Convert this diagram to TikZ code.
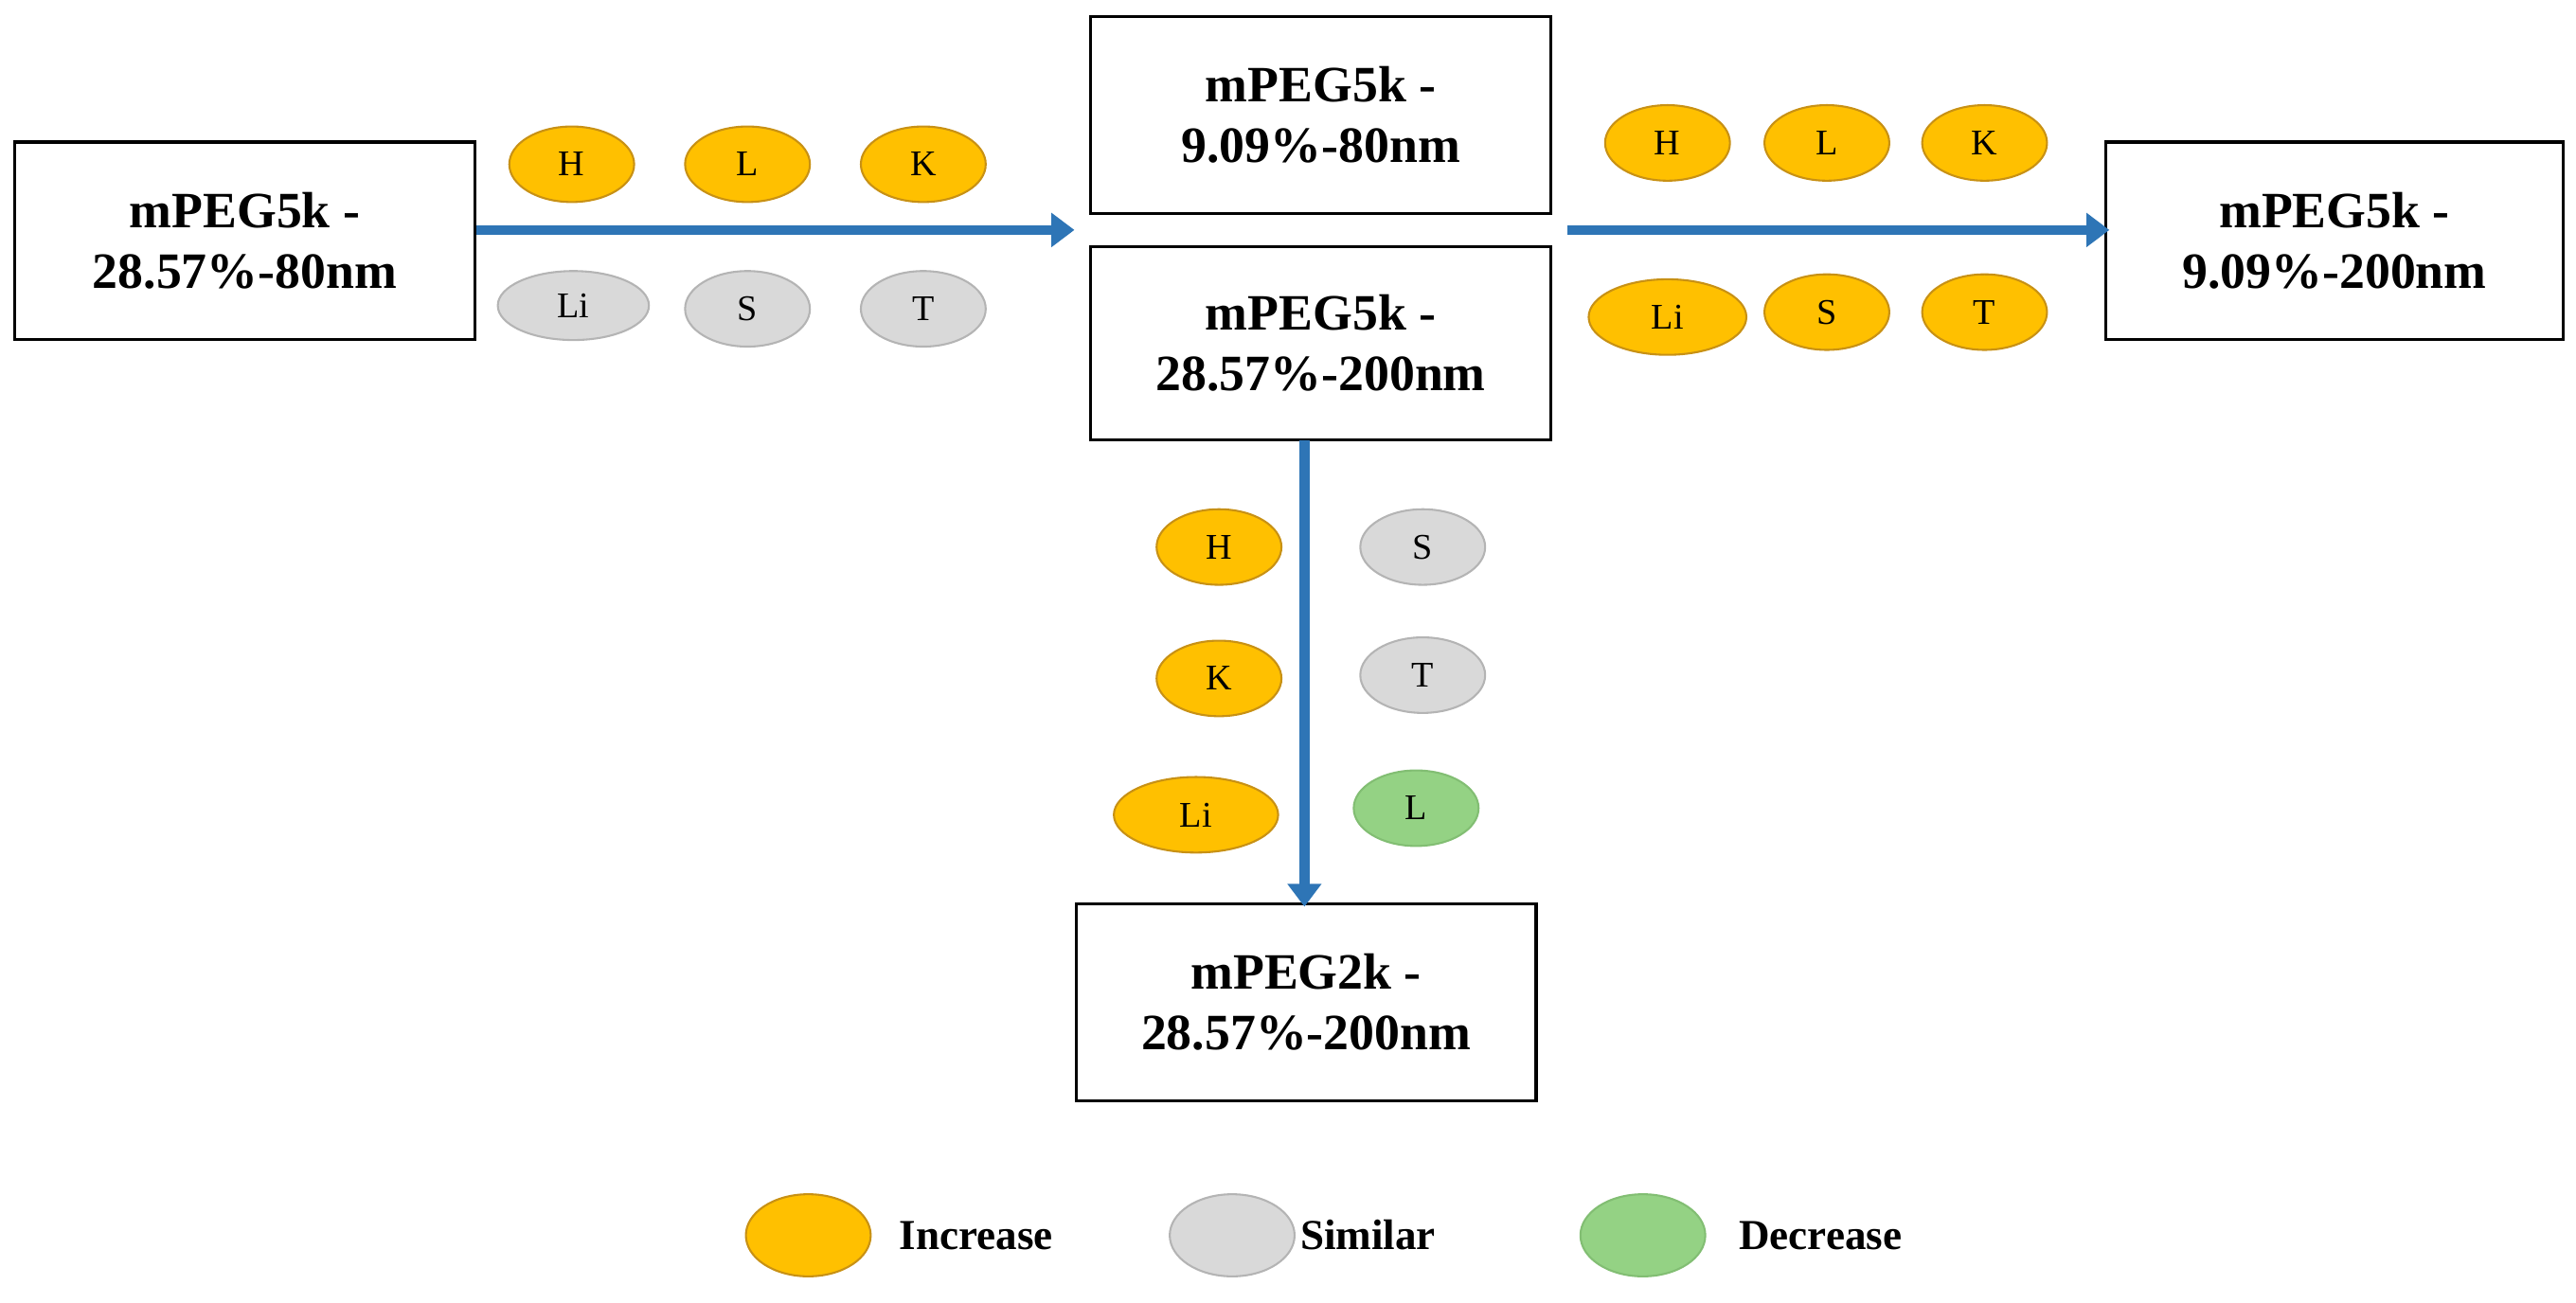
\documentclass[tikz,border=0pt]{standalone}
\usepackage{fontspec}
\setmainfont{Liberation Serif}
\usetikzlibrary{arrows.meta,shapes.geometric}
\definecolor{org}{RGB}{255,192,0}
\definecolor{orgd}{RGB}{200,145,20}
\definecolor{gry}{RGB}{217,217,217}
\definecolor{gryd}{RGB}{180,180,180}
\definecolor{grn}{RGB}{148,210,132}
\definecolor{grnd}{RGB}{130,190,115}
\definecolor{arr}{RGB}{46,117,182}
\begin{document}
\begin{tikzpicture}[x=1pt,y=-1pt,
 box/.style={draw=black,line width=1.8pt,minimum width=280pt,minimum height=120pt,align=center,font=\fontsize{31}{37}\selectfont\bfseries},
 el/.style={ellipse,minimum width=76pt,minimum height=46pt,inner sep=0pt,font=\fontsize{22}{26}\selectfont,line width=1.2pt},
 inc/.style={el,fill=org,draw=orgd},
 sim/.style={el,fill=gry,draw=gryd},
 dec/.style={el,fill=grn,draw=grnd},
 ar/.style={draw=arr,line width=6pt,-{Triangle[length=14pt,width=20pt]}},
 lg/.style={font=\fontsize{26}{30}\selectfont\bfseries,anchor=west}]
\useasboundingbox (0,0) rectangle (1568,793);
\node[box] (A) at (149,146.5) {mPEG5k -\\28.57\%-80nm};
\node[box] (B) at (804,70) {mPEG5k -\\9.09\%-80nm};
\node[box,minimum height=118pt] (C) at (804,209) {mPEG5k -\\28.57\%-200nm};
\node[box,minimum width=278pt] (D) at (1421,146.5) {mPEG5k -\\9.09\%-200nm};
\node[box] (E) at (795,610) {mPEG2k -\\28.57\%-200nm};
\coordinate (a1) at (290,140); \coordinate (a2) at (654,140);
\coordinate (b1) at (954,140); \coordinate (b2) at (1284,140);
\coordinate (c1) at (794,268); \coordinate (c2) at (794,552);
\draw[ar] (a1) -- (a2);
\draw[ar] (b1) -- (b2);
\draw[ar] (c1) -- (c2);
\node[inc] (h1) at (348,100) {H};
\node[inc] (l1) at (455,100) {L};
\node[inc] (k1) at (562,100) {K};
\node[sim,minimum width=92pt,minimum height=42pt] (li1) at (349,186) {Li};
\node[sim] (s1) at (455,188) {S};
\node[sim] (t1) at (562,188) {T};
\node[inc] (h2) at (1015,87) {H};
\node[inc] (l2) at (1112,87) {L};
\node[inc] (k2) at (1208,87) {K};
\node[inc,minimum width=96pt] (li2) at (1015,193) {Li};
\node[inc] (s2) at (1112,190) {S};
\node[inc] (t2) at (1208,190) {T};
\node[inc] (h3) at (742,333) {H};
\node[inc] (k3) at (742,413) {K};
\node[inc,minimum width=100pt] (li3) at (728,496) {Li};
\node[sim] (s3) at (866,333) {S};
\node[sim] (t3) at (866,411) {T};
\node[dec] (l3) at (862,492) {L};
\node[inc,minimum height=50pt] (lo) at (492,752) {};
\node[lg] (lot) at (544,752) {Increase};
\node[sim,minimum height=50pt] (lsg) at (750,752) {};
\node[lg] (lsgt) at (788,752) {Similar};
\node[dec,minimum height=50pt] (lgn) at (1000,752) {};
\node[lg] (lgnt) at (1055,752) {Decrease};
\end{tikzpicture}
\end{document}
